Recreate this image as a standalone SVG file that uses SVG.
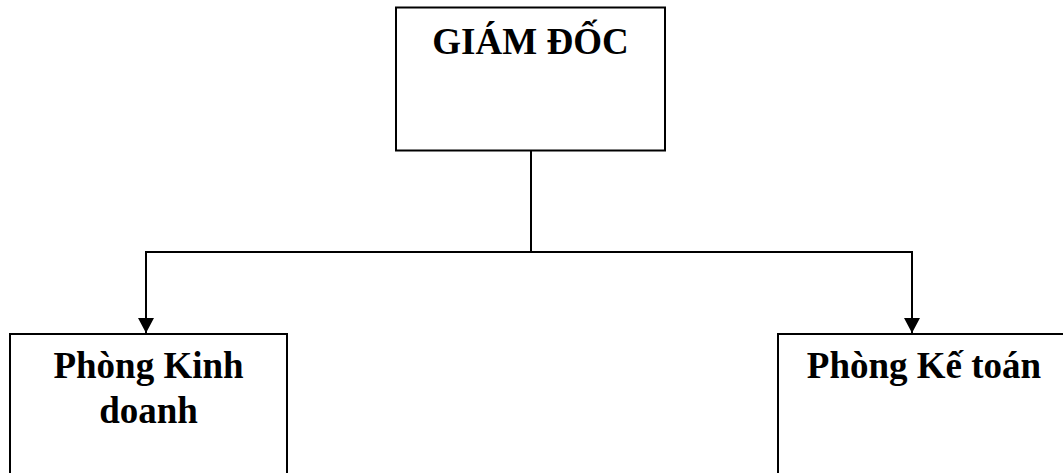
<svg xmlns="http://www.w3.org/2000/svg" width="1063" height="473" viewBox="0 0 1063 473">
<defs>
<style>
.box{fill:#fff;stroke:#000;stroke-width:2}
.lbl{font-family:"Liberation Serif","Times New Roman",serif;font-weight:bold;font-size:37px;fill:#000;text-anchor:middle}
.conn{fill:none;stroke:#000;stroke-width:2}
</style>
<marker id="arr" markerWidth="16" markerHeight="16" refX="15" refY="8" orient="auto" markerUnits="userSpaceOnUse">
<path d="M0,0 L15,8 L0,16 Z" fill="#000"/>
</marker>
</defs>
<rect width="1063" height="473" fill="#fff"/>
<g id="connectors">
<line class="conn" x1="531" y1="151" x2="531" y2="252"/>
<polyline class="conn" points="146,252 912,252"/>
<line class="conn" x1="146" y1="251" x2="146" y2="333" marker-end="url(#arr)"/>
<line class="conn" x1="912" y1="251" x2="912" y2="333" marker-end="url(#arr)"/>
</g>
<g id="giam-doc">
<rect class="box" x="396" y="7.5" width="269" height="143"/>
<text class="lbl" x="530.5" y="54">GIÁM ĐỐC</text>
</g>
<g id="phong-kinh-doanh">
<rect class="box" x="10" y="334" width="277" height="160"/>
<text class="lbl" x="148.5" y="378">Phòng Kinh</text>
<text class="lbl" x="148.5" y="423">doanh</text>
</g>
<g id="phong-ke-toan">
<rect class="box" x="778" y="334" width="300" height="160"/>
<text class="lbl" x="924" y="378">Phòng Kế toán</text>
</g>
</svg>
